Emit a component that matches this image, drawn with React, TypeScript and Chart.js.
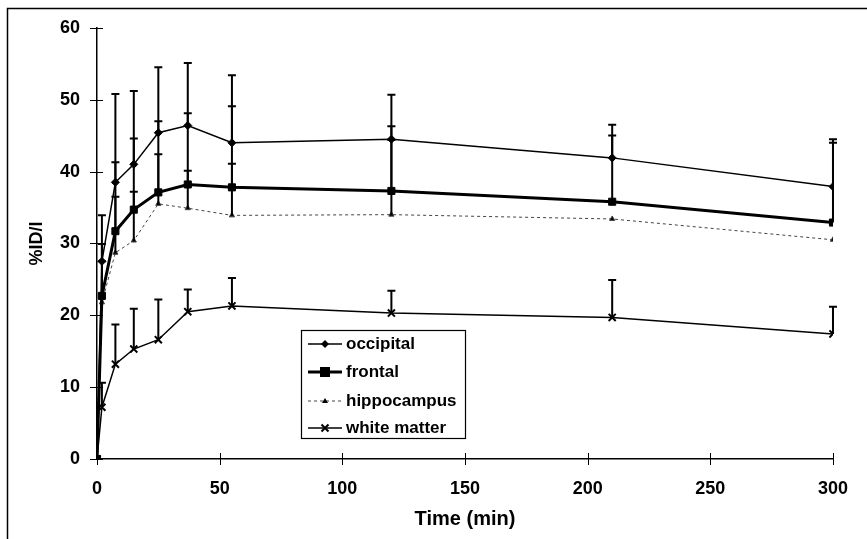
import { useEffect, useRef } from "react";
import { Chart, registerables } from "chart.js";

Chart.register(...registerables);

const times = [0, 2, 7.5, 15, 25, 37, 55, 120, 210, 300];
const occipital = [0, 27.5, 38.5, 41.0, 45.4, 46.4, 44.0, 44.5, 41.9, 37.9];
const occipitalSD = [0, 6.4, 12.3, 10.2, 9.1, 8.7, 9.4, 6.2, 4.6, 6.6];
const frontal = [0, 22.7, 31.7, 34.7, 37.1, 38.2, 37.8, 37.3, 35.8, 32.9];
const frontalSD = [0, 7.2, 9.6, 9.9, 9.9, 9.9, 11.3, 9.0, 9.2, 11.1];
const hippocampus = [0, 21.8, 28.7, 30.4, 35.5, 34.9, 33.9, 34.0, 33.4, 30.5];
const hippocampusSD = [0, 5.7, 7.8, 6.8, 6.9, 5.2, 7.2, 10.4, 0, 0];
const whiteMatter = [0, 7.2, 13.2, 15.3, 16.6, 20.5, 21.3, 20.3, 19.7, 17.4];
const whiteMatterSD = [0, 3.4, 5.5, 5.6, 5.6, 3.1, 3.9, 3.1, 5.2, 3.8];

const seriesLabels = ["occipital", "frontal", "hippocampus", "white matter"];
const xTitle = "Time (min)";
const yTitle = "%ID/l";

const FONT = '"Liberation Sans", Arial, sans-serif';

const sds = [occipitalSD, frontalSD, hippocampusSD, whiteMatterSD];

const overlay = {
  id: "overlay",
  afterDatasetsDraw(chart: any) {
    const ctx = chart.ctx;
    const xs = chart.scales.x;
    const ys = chart.scales.y;
    ctx.save();
    ctx.strokeStyle = "#000";
    ctx.lineWidth = 2;
    chart.data.datasets.forEach((ds: any, i: number) => {
      const sd = sds[i];
      ds.data.forEach((p: any, j: number) => {
        if (!sd[j]) return;
        const px = xs.getPixelForValue(p.x);
        const y0 = ys.getPixelForValue(p.y);
        const y1 = ys.getPixelForValue(p.y + sd[j]);
        ctx.beginPath();
        ctx.moveTo(px, y0);
        ctx.lineTo(px, y1);
        ctx.moveTo(px - 4, y1);
        ctx.lineTo(px + 4, y1);
        ctx.stroke();
      });
    });
    ctx.restore();
  },
  afterDraw(chart: any) {
    const ctx = chart.ctx;
    const xs = chart.scales.x;
    const ys = chart.scales.y;
    const area = chart.chartArea;
    ctx.save();
    // outer frame
    ctx.strokeStyle = "#000";
    ctx.lineWidth = 1.5;
    ctx.beginPath();
    ctx.moveTo(7.5, 560);
    ctx.lineTo(7.5, 8.5);
    ctx.lineTo(900, 8.5);
    ctx.stroke();
    // crossing tick marks
    ctx.lineWidth = 1;
    xs.ticks.forEach((t: any) => {
      const px = Math.round(xs.getPixelForValue(t.value)) + 0.5;
      ctx.beginPath();
      ctx.moveTo(px, area.bottom - 6);
      ctx.lineTo(px, area.bottom + 6);
      ctx.stroke();
    });
    ys.ticks.forEach((t: any) => {
      const py = Math.round(ys.getPixelForValue(t.value)) + 0.5;
      ctx.beginPath();
      ctx.moveTo(area.left - 7, py);
      ctx.lineTo(area.left + 6, py);
      ctx.stroke();
    });
    // axis titles
    ctx.fillStyle = "#000";
    ctx.font = `bold 20px ${FONT}`;
    ctx.textAlign = "center";
    ctx.textBaseline = "middle";
    ctx.fillText(xTitle, (area.left + area.right) / 2, 519);
    ctx.save();
    ctx.translate(37, (area.top + area.bottom) / 2);
    ctx.rotate(-Math.PI / 2);
    ctx.font = `bold 18px ${FONT}`;
    ctx.fillText(yTitle, 0, 0);
    ctx.restore();
    // legend
    const bx = 301, by = 330, bw = 164, bh = 108;
    ctx.fillStyle = "#fff";
    ctx.fillRect(bx, by, bw, bh);
    ctx.strokeStyle = "#000";
    ctx.lineWidth = 1.2;
    ctx.strokeRect(bx + 0.5, by + 0.5, bw, bh);
    const rows = [344, 372, 401, 428];
    chart.data.datasets.forEach((ds: any, i: number) => {
      const y = rows[i];
      ctx.save();
      ctx.strokeStyle = ds.borderColor;
      ctx.lineWidth = ds.borderWidth;
      ctx.setLineDash(ds.borderDash || []);
      ctx.beginPath();
      ctx.moveTo(308, y);
      ctx.lineTo(342, y);
      ctx.stroke();
      ctx.restore();
      const meta = chart.getDatasetMeta(i);
      const el = meta.data[1];
      if (el) {
        const o = el.options;
        (Chart as any).helpers?.drawPoint;
      }
      drawMarker(ctx, ds.pointStyle, 325, y, ds.pointRadius, ds.pointBorderWidth);
      ctx.fillStyle = "#000";
      ctx.font = `bold 17px ${FONT}`;
      ctx.textAlign = "left";
      ctx.textBaseline = "middle";
      ctx.fillText(ds.label, 346, y);
    });
    ctx.restore();
  },
};

function drawMarker(ctx: any, style: string, x: number, y: number, r: number, bw: number) {
  ctx.save();
  ctx.fillStyle = "#000";
  ctx.strokeStyle = "#000";
  ctx.lineWidth = bw;
  ctx.beginPath();
  if (style === "rectRot") {
    ctx.moveTo(x, y - r);
    ctx.lineTo(x + r, y);
    ctx.lineTo(x, y + r);
    ctx.lineTo(x - r, y);
    ctx.closePath();
    ctx.fill();
  } else if (style === "rect") {
    ctx.fillRect(x - r, y - r, 2 * r, 2 * r);
  } else if (style === "triangle") {
    ctx.moveTo(x, y - r);
    ctx.lineTo(x + r, y + r * 0.7);
    ctx.lineTo(x - r, y + r * 0.7);
    ctx.closePath();
    ctx.fill();
  } else if (style === "crossRot") {
    ctx.moveTo(x - r * 0.7, y - r * 0.7);
    ctx.lineTo(x + r * 0.7, y + r * 0.7);
    ctx.moveTo(x + r * 0.7, y - r * 0.7);
    ctx.lineTo(x - r * 0.7, y + r * 0.7);
    ctx.stroke();
  }
  ctx.restore();
}

function pts(vals: number[]) {
  return times.map((t, i) => ({ x: t, y: vals[i] }));
}

export default function App() {
  const ref = useRef<HTMLCanvasElement>(null);
  useEffect(() => {
    if (!ref.current) return;
    const chart = new Chart(ref.current, {
      type: "line",
      data: {
        datasets: [
          {
            label: seriesLabels[0],
            data: pts(occipital),
            borderColor: "#000",
            backgroundColor: "#000",
            borderWidth: 1.5,
            pointStyle: "rectRot",
            pointRadius: 4,
            pointBorderWidth: 1,
          },
          {
            label: seriesLabels[1],
            data: pts(frontal),
            borderColor: "#000",
            backgroundColor: "#000",
            borderWidth: 3,
            pointStyle: "rect",
            pointRadius: 5,
            pointBorderWidth: 1,
          },
          {
            label: seriesLabels[2],
            data: pts(hippocampus),
            borderColor: "#444",
            backgroundColor: "#000",
            borderWidth: 1,
            borderDash: [3, 3],
            pointStyle: "triangle",
            pointRadius: 3,
            pointBorderWidth: 1,
          },
          {
            label: seriesLabels[3],
            data: pts(whiteMatter),
            borderColor: "#000",
            backgroundColor: "#000",
            borderWidth: 1.5,
            pointStyle: "crossRot",
            pointRadius: 5,
            pointBorderWidth: 2,
          },
        ] as any,
      },
      options: {
        responsive: false,
        animation: false,
        layout: { padding: { top: 25, right: 23, left: 0, bottom: 0 } },
        plugins: { legend: { display: false }, tooltip: { enabled: false } },
        elements: { line: { tension: 0 } },
        scales: {
          x: {
            type: "linear",
            min: 0,
            max: 300,
            ticks: { stepSize: 50, color: "#000", font: { family: FONT, size: 18, weight: "bold" }, padding: 19 },
            grid: { display: false, drawTicks: false },
            border: { display: true, color: "#000", width: 1.5 },
            afterFit: (s: any) => {
              s.height = 80;
            },
          },
          y: {
            min: 0,
            max: 60,
            ticks: { stepSize: 10, color: "#000", font: { family: FONT, size: 18, weight: "bold" }, padding: 17 },
            grid: { display: false, drawTicks: false },
            border: { display: true, color: "#000", width: 1.5 },
            afterFit: (s: any) => {
              s.width = 97;
            },
          },
        },
      } as any,
      plugins: [overlay],
    });
    return () => chart.destroy();
  }, []);
  return (
    <canvas
      ref={ref}
      width={867}
      height={539}
      style={{ position: "absolute", left: 0, top: 0, display: "block" }}
    />
  );
}
